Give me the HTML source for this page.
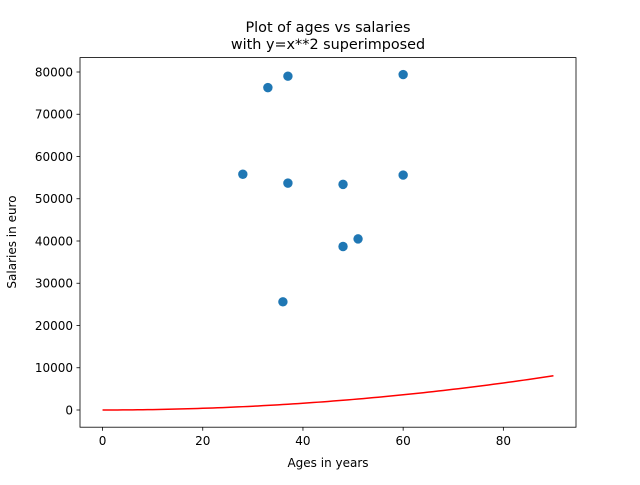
<!DOCTYPE html>
<html><head><meta charset="utf-8"><style>
body{margin:0;background:#fff;}
svg text{font-family:"DejaVu Sans","Liberation Sans",sans-serif;fill:#000;}
</style></head><body>
<svg id="chart" width="640" height="480" xmlns="http://www.w3.org/2000/svg">
<rect width="640" height="480" fill="#fff"/>
<text x="328" y="32" font-size="14.4" text-anchor="middle">Plot of ages vs salaries</text>
<text x="328" y="49" font-size="14.4" text-anchor="middle">with y=x**2 superimposed</text>
<g id="xt"></g>
<g id="yt"></g>
<g id="marks"></g>
<rect x="80" y="57.6" width="496" height="369.6" fill="none" stroke="#000" stroke-width="0.8"/>
<text x="328" y="467" font-size="12" text-anchor="middle">Ages in years</text>
<text x="16" y="242" font-size="12" text-anchor="middle" transform="rotate(-90 16 242)">Salaries in euro</text>
</svg>
<script>
const ages=[28,33,37,36,37,48,48,51,60,60];
const salaries=[55800,76300,79000,25600,53700,53400,38700,40500,79400,55600];
const xTicks=[0,20,40,60,80];
const yTicks=[0,10000,20000,30000,40000,50000,60000,70000,80000];
const curveX=[];for(let i=0;i<=90;i++)curveX.push(i);
const xs=v=>80+(v+4.5)*496/99;
const ys=v=>427.2-(v+4071)*369.6/87479;
const NS="http://www.w3.org/2000/svg";
function mk(t,a,p){const e=document.createElementNS(NS,t);for(const k in a)e.setAttribute(k,a[k]);p.appendChild(e);return e;}
const xt=document.getElementById('xt'),yt=document.getElementById('yt'),m=document.getElementById('marks');
xTicks.forEach(v=>{const x=xs(v);
const l=mk('line',{x1:x,x2:x,y1:427.2,y2:430.7,stroke:'#000','stroke-width':0.8},xt);


const t=mk('text',{x:x,y:445,'font-size':12,'text-anchor':'middle'},xt);t.textContent=v;

});
yTicks.forEach(v=>{const y=ys(v);
const l=mk('line',{x1:76.5,x2:80,y1:y,y2:y,stroke:'#000','stroke-width':0.8},yt);


const t=mk('text',{x:73,y:y+4.3,'font-size':12,'text-anchor':'end'},yt);t.textContent=v;

});
ages.forEach((a,i)=>{const c=mk('circle',{cx:xs(a),cy:ys(salaries[i]),r:4.7,fill:'#1f77b4'},m);

});
const p=mk('polyline',{points:curveX.map(x=>xs(x)+','+ys(x*x)).join(' '),fill:'none',stroke:'#ff0000','stroke-width':1.5},m);


</script>
</body></html>
